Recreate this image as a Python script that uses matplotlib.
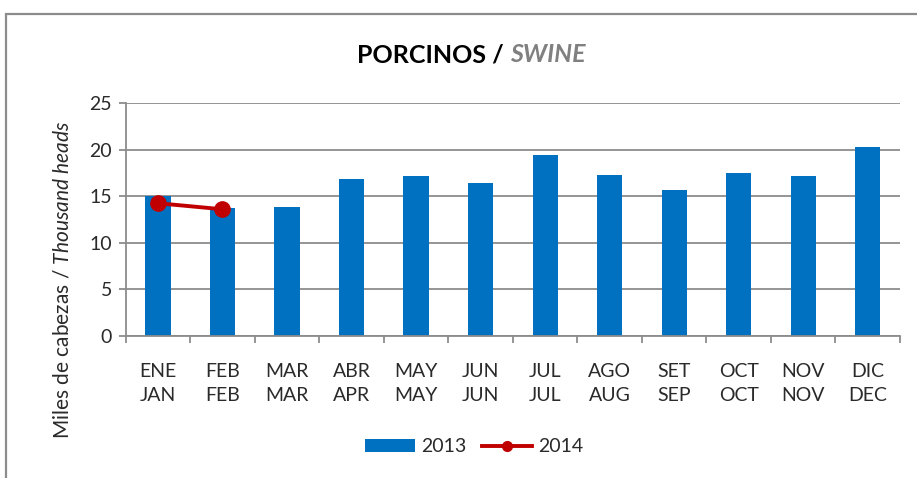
import matplotlib
matplotlib.use("Agg")
import matplotlib.pyplot as plt
from matplotlib.patches import Rectangle
from matplotlib.lines import Line2D
from matplotlib.patches import Patch
import numpy as np

plt.rcParams['font.family'] = ['Lato', 'DejaVu Sans']
plt.rcParams['mathtext.fontset'] = 'custom'
plt.rcParams['mathtext.rm'] = 'Lato'
plt.rcParams['mathtext.it'] = 'Lato:italic'

months = ["ENE\nJAN", "FEB\nFEB", "MAR\nMAR", "ABR\nAPR", "MAY\nMAY", "JUN\nJUN",
          "JUL\nJUL", "AGO\nAUG", "SET\nSEP", "OCT\nOCT", "NOV\nNOV", "DIC\nDEC"]
values_2013 = [15.0, 13.7, 13.8, 16.9, 17.2, 16.45, 19.45, 17.3, 15.7, 17.55, 17.2, 20.3]
values_2014 = [14.25, 13.6]
yticks = [0, 5, 10, 15, 20, 25]

W, H = 917, 478
fig = plt.figure(figsize=(W/100, H/100), dpi=100)
fig.patch.set_facecolor('white')

# outer frame
fig.patches.append(Rectangle((6/W, -0.2), 1.2, 1.2 - 14/H, transform=fig.transFigure,
                             fill=False, edgecolor='#8c8c8c', lw=1.6, zorder=0))

ax = fig.add_axes([125.7/W, 1-335.7/H, (900-125.7)/W, (335.7-103.3)/H])
x = np.arange(len(months))
ax.bar(x, values_2013, width=0.39, color='#0070C0', zorder=2, label='2013')
ax.plot(x[:len(values_2014)], values_2014, color='#C00000', lw=2.8, marker='o',
        markersize=11, zorder=3, label='2014')

ax.set_xlim(-0.5, len(months)-0.5)
ax.set_ylim(0, 25)
ax.set_yticks(yticks)
ax.yaxis.grid(True, color='#8c8c8c', lw=1.3, zorder=0)
ax.set_axisbelow(True)
for s in ['top', 'right']:
    ax.spines[s].set_visible(False)
for s in ['left', 'bottom']:
    ax.spines[s].set_color('#8c8c8c')
    ax.spines[s].set_linewidth(1.3)

ax.set_xticks(np.arange(-0.5, len(months), 1.0))
ax.set_xticklabels([])
ax.set_xticks(x, minor=True)
ax.set_xticklabels(months, minor=True, fontsize=14, color='#2a2a2a', linespacing=1.45)
ax.tick_params(axis='x', which='minor', length=0, pad=20)
ax.tick_params(axis='x', which='major', length=5, color='#8c8c8c', width=1.3)
ax.tick_params(axis='y', length=5, color='#8c8c8c', width=1.3, labelsize=14,
               labelcolor='#2a2a2a', pad=5)

fig.text(63/W, 1-280/H, r"Miles de cabezas / $\it{Thousand\ heads}$", rotation=90,
         ha='center', va='center', fontsize=15, color='#2a2a2a')

# title
fig.canvas.draw()
r = fig.canvas.get_renderer()
t1 = fig.text(0, 1-55/H, "PORCINOS / ", fontsize=18, fontweight='bold', color='black',
              ha='left', va='center')
t2 = fig.text(0, 1-55/H, "SWINE", fontsize=18, fontweight='bold', style='italic',
              color='#808080', ha='left', va='center')
w1 = t1.get_window_extent(r).width
w2 = t2.get_window_extent(r).width
start = 471 - (w1 + w2) / 2
t1.set_x(start / W)
t2.set_x((start + w1) / W)

handles = [Patch(facecolor='#0070C0', edgecolor='none'),
           Line2D([0], [0], color='#C00000', lw=2.8, marker='o', markersize=7)]
fig.legend(handles, ['2013', '2014'], loc='center', bbox_to_anchor=(474/W, 1-447/H),
           ncol=2, frameon=False, fontsize=14, handlelength=2.6, handleheight=0.6,
           columnspacing=0.8, handletextpad=0.3, labelcolor='#2a2a2a')

fig.savefig('out.png', dpi=100)
